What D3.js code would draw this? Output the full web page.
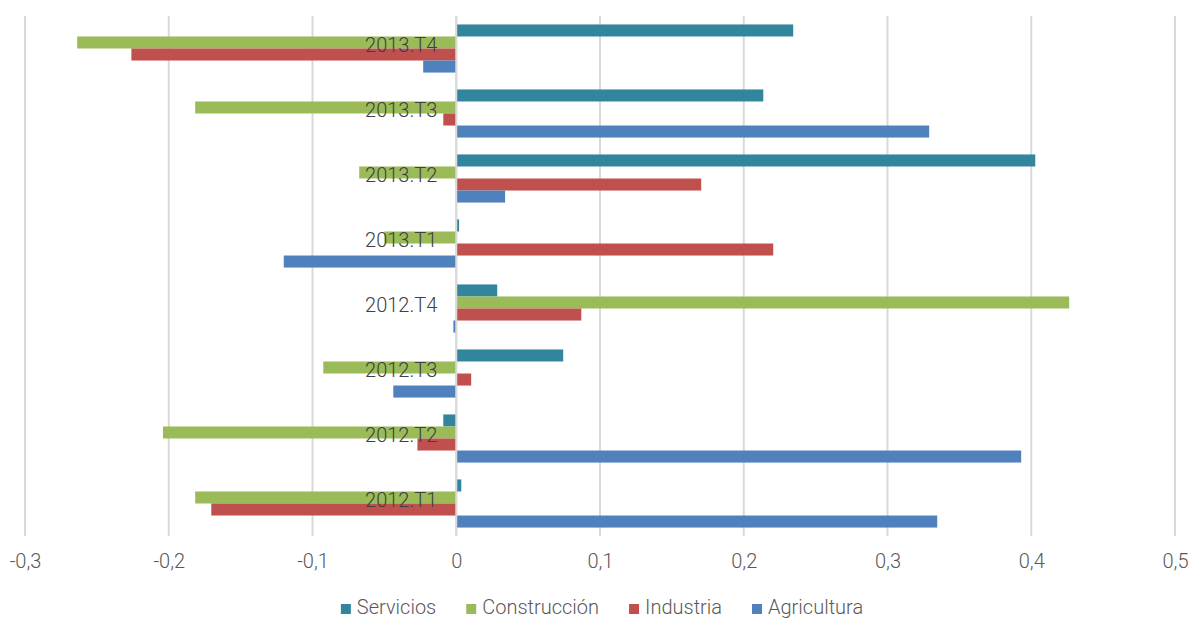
<!DOCTYPE html>
<html>
<head>
<meta charset="utf-8">
<script src="https://cdn.jsdelivr.net/npm/d3@7"></script>
<style>
  html, body { margin: 0; padding: 0; background: #fff; }
  svg { display: block; font-family: Roboto, "Noto Sans", sans-serif; }
</style>
</head>
<body>
<div id="chart"></div>
<script>
// DATA
const categories = ["2012.T1", "2012.T2", "2012.T3", "2012.T4", "2013.T1", "2013.T2", "2013.T3", "2013.T4"];
const seriesNames = ["Servicios", "Construcción", "Industria", "Agricultura"];
const seriesColors = ["#31859C", "#9BBB59", "#C0504D", "#4F81BD"];

const servicios    = [0.0035, -0.009, 0.0744, 0.0285, 0.002, 0.4028, 0.2136, 0.2344];
const construccion = [-0.1816, -0.204, -0.0925, 0.4264, -0.05, -0.0675, -0.1816, -0.2637];
const industria    = [-0.1704, -0.027, 0.0104, 0.087, 0.2205, 0.1704, -0.009, -0.226];
const agricultura  = [0.3346, 0.393, -0.0438, -0.002, -0.12, 0.034, 0.329, -0.023];

const tickValues = [-0.3, -0.2, -0.1, 0, 0.1, 0.2, 0.3, 0.4, 0.5];

const seriesValues = [servicios, construccion, industria, agricultura];

// LAYOUT
const width = 1192;
const height = 619;
const plotLeft = 25;
const plotRight = 1175;
const plotTop = 16;
const plotBottom = 536;

const svg = d3.select("#chart")
  .append("svg")
  .attr("width", width)
  .attr("height", height);

const x = d3.scaleLinear()
  .domain([-0.3, 0.5])
  .range([plotLeft, plotRight]);

const y = d3.scaleBand()
  .domain(categories)
  .range([plotBottom, plotTop])
  .paddingInner(0.26)
  .paddingOuter(0.13);

const ySeries = d3.scaleBand()
  .domain(seriesNames)
  .range([0, y.bandwidth()]);

const esLocale = d3.formatLocale({
  decimal: ",",
  thousands: ".",
  grouping: [3],
  currency: ["", " €"],
  minus: "-"
});
const fmt = esLocale.format(".1~f");

// GRIDLINES
svg.append("g")
  .selectAll("line")
  .data(tickValues)
  .join("line")
  .attr("x1", (d) => x(d))
  .attr("x2", (d) => x(d))
  .attr("y1", plotTop)
  .attr("y2", plotBottom)
  .attr("stroke", "#d9d9d9")
  .attr("stroke-width", 2);

// BARS
const rows = [];
categories.forEach((cat, i) => {
  seriesNames.forEach((s, j) => {
    rows.push({ cat: cat, series: s, color: seriesColors[j], value: seriesValues[j][i] });
  });
});

svg.append("g")
  .selectAll("rect")
  .data(rows)
  .join("rect")
  .attr("x", (d) => Math.min(x(0), x(d.value)))
  .attr("width", (d) => Math.abs(x(d.value) - x(0)))
  .attr("y", (d) => y(d.cat) + ySeries(d.series))
  .attr("height", ySeries.bandwidth())
  .attr("fill", (d) => d.color);

// ZERO LINE ON TOP
svg.append("line")
  .attr("x1", x(0))
  .attr("x2", x(0))
  .attr("y1", plotTop)
  .attr("y2", plotBottom)
  .attr("stroke", "#d9d9d9")
  .attr("stroke-width", 2);

// CATEGORY LABELS (next to the zero axis)
svg.append("g")
  .selectAll("text")
  .data(categories)
  .join("text")
  .attr("x", x(0) - 19)
  .attr("y", (d) => y(d) + y.bandwidth() / 2)
  .attr("dy", "0.17em")
  .attr("text-anchor", "end")
  .style("font-size", "20px")
  .style("font-weight", 300)
  .style("fill", "#404040")
  .text((d) => d);

// X AXIS
const xAxis = d3.axisBottom(x)
  .tickValues(tickValues)
  .tickFormat(fmt)
  .tickSize(0)
  .tickPadding(0);

const axisG = svg.append("g")
  .attr("transform", `translate(0, ${plotBottom})`)
  .call(xAxis);

axisG.select(".domain").remove();
axisG.selectAll("text")
  .attr("y", 0)
  .attr("dy", 0)
  .attr("transform", "translate(0, 32)")
  .style("font-family", "Roboto, 'Noto Sans', sans-serif")
  .style("font-size", "20px")
  .style("font-weight", 300)
  .style("fill", "#595959");

// LEGEND
const legend = svg.append("g").attr("class", "legend");
const items = legend.selectAll("g")
  .data(seriesNames)
  .join("g");

items.append("rect")
  .attr("width", 10)
  .attr("height", 10)
  .attr("y", -10)
  .attr("fill", (d, i) => seriesColors[i]);

items.append("text")
  .attr("x", 16)
  .attr("y", 0)
  .style("font-size", "20px")
  .style("font-weight", 300)
  .style("fill", "#595959")
  .text((d) => d);

const legendGap = 30;
let offset = 0;
const positions = [];
items.each(function () {
  const w = 16 + d3.select(this).select("text").node().getComputedTextLength();
  positions.push(offset);
  offset += w + legendGap;
});
const totalWidth = offset - legendGap;
const legendStart = 602 - totalWidth / 2;

items.attr("transform", (d, i) => `translate(${legendStart + positions[i]}, 614)`);
</script>
</body>
</html>
